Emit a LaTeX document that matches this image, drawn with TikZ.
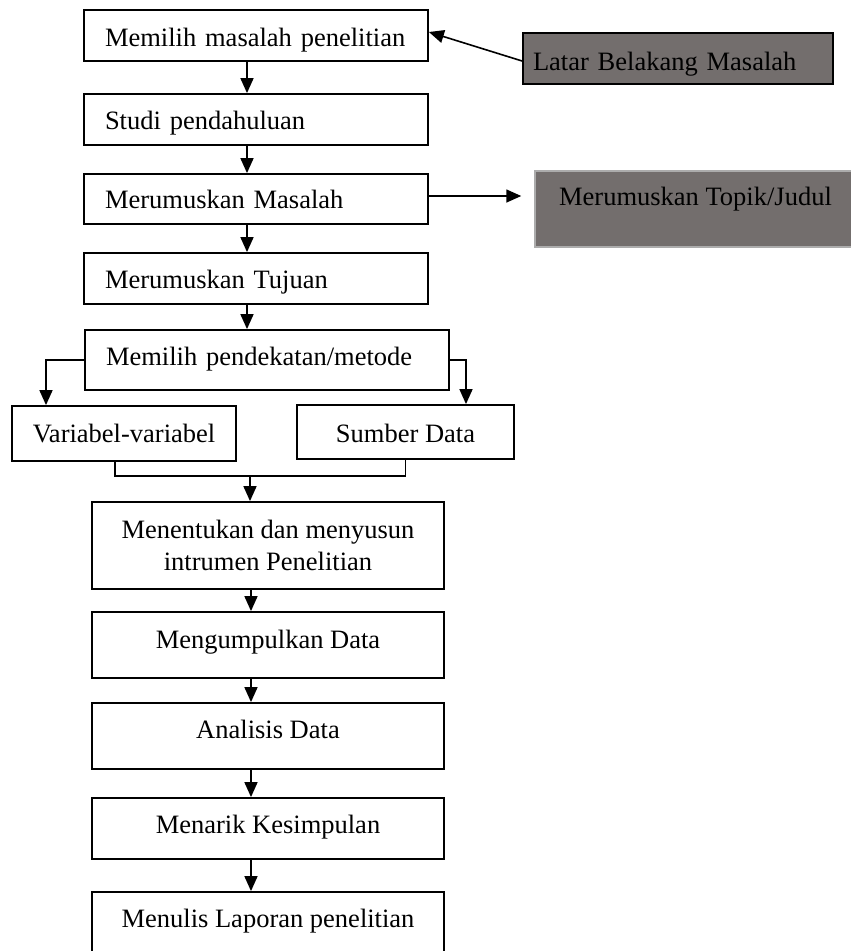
\documentclass[tikz,border=0pt]{standalone}
\usepackage{fontspec}
\setmainfont{Liberation Serif}
\usetikzlibrary{arrows.meta}
\definecolor{boxgray}{RGB}{115,110,109}
\definecolor{edgegray}{RGB}{172,172,172}
\begin{document}
\begin{tikzpicture}[x=1pt,y=-1pt,
  every node/.style={font=\fontsize{26.5}{32}\selectfont},
  stage/.style={draw, line width=1.8pt, inner sep=0pt, align=center},
  stageleft/.style={draw, line width=1.8pt, inner ysep=0pt, inner xsep=21pt, align=left},
  link/.style={line width=1.6pt, -{Triangle[length=15pt,width=13pt]}},
  plain/.style={line width=1.6pt}
]
\useasboundingbox (0,0) rectangle (851,951);

% main column, upper part
\node[stageleft, minimum width=344pt, minimum height=51pt, text width=302pt,
      text height=21pt, text depth=0pt] (b1) at (256,35.5) {Memilih masalah penelitian};
\node[stageleft, minimum width=344pt, minimum height=51pt, text width=302pt,
      text height=19pt, text depth=0pt] (b2) at (256,119.5) {Studi pendahuluan};
\node[stageleft, minimum width=344pt, minimum height=50pt, text width=302pt,
      text height=18pt, text depth=0pt] (b3) at (256,199) {Merumuskan Masalah};
\node[stageleft, minimum width=344pt, minimum height=51pt, text width=302pt,
      text height=19pt, text depth=0pt] (b4) at (256,278.5) {Merumuskan Tujuan};
\node[stageleft, minimum width=364pt, minimum height=60pt, text width=322pt,
      text height=10pt, text depth=0pt] (b5) at (267,360) {Memilih pendekatan/metode};

% side boxes
\node[stageleft, fill=boxgray, minimum width=310pt, minimum height=51pt, inner xsep=10pt,
      text width=290pt, text height=23pt, text depth=0pt] (lat) at (678,58.5) {Latar Belakang Masalah};
\node[stage, fill=boxgray, draw=edgegray, line width=1.5pt, minimum width=321pt, minimum height=76pt,
      text height=0pt, text depth=8pt] (top) at (695.5,209) {Merumuskan Topik/Judul};

% two branches
\node[stage, minimum width=224pt, minimum height=55pt,
      text height=17pt, text depth=0pt] (var) at (124,433.5) {Variabel-variabel};
\node[stage, minimum width=217pt, minimum height=54pt,
      text height=20pt, text depth=0pt] (sum) at (405.5,432) {Sumber Data};

% main column, lower part
\node[stage, minimum width=352pt, minimum height=87pt] (b6) at (268,545.5)
      {Menentukan dan menyusun\\intrumen Penelitian};
\node[stage, minimum width=352pt, minimum height=66pt,
      text height=6pt, text depth=0pt] (b7) at (268,645) {Mengumpulkan Data};
\node[stage, minimum width=352pt, minimum height=66pt,
      text height=4pt, text depth=0pt] (b8) at (268,736) {Analisis Data};
\node[stage, minimum width=352pt, minimum height=61pt,
      text height=9pt, text depth=0pt] (b9) at (268,828.5) {Menarik Kesimpulan};
\node[stage, minimum width=352pt, minimum height=61pt,
      text height=9pt, text depth=0pt] (b10) at (268,922.5) {Menulis Laporan penelitian};

% connectors
\coordinate (spine) at (247,0);
\coordinate (spinelow) at (251,0);
\draw[link] (b1.south -| spine) -- (b2.north -| spine);
\draw[link] (b2.south -| spine) -- (b3.north -| spine);
\draw[link] (b3.south -| spine) -- (b4.north -| spine);
\draw[link] (b4.south -| spine) -- (b5.north -| spine);

\draw[link] ([yshift=-2.5pt]lat.west) -- ([yshift=3.5pt]b1.east);
\coordinate (tap) at ([yshift=3pt]b3.east);
\draw[link, shorten >=13pt] (tap) -- (tap -| top.west);

\draw[link] (b5.west) -| ([xshift=-78pt]var.north);
\draw[link] (b5.east) -| ([xshift=60.5pt]sum.north);

\coordinate (join) at (250,476);
\draw[plain] ([xshift=-9pt]var.south) |- (join) -| (sum.south);
\draw[link] (join) -- (join |- b6.north);

\draw[link] (b6.south -| spinelow) -- (b7.north -| spinelow);
\draw[link] (b7.south -| spinelow) -- (b8.north -| spinelow);
\draw[link] (b8.south -| spinelow) -- (b9.north -| spinelow);
\draw[link] (b9.south -| spinelow) -- (b10.north -| spinelow);
\end{tikzpicture}
\end{document}
